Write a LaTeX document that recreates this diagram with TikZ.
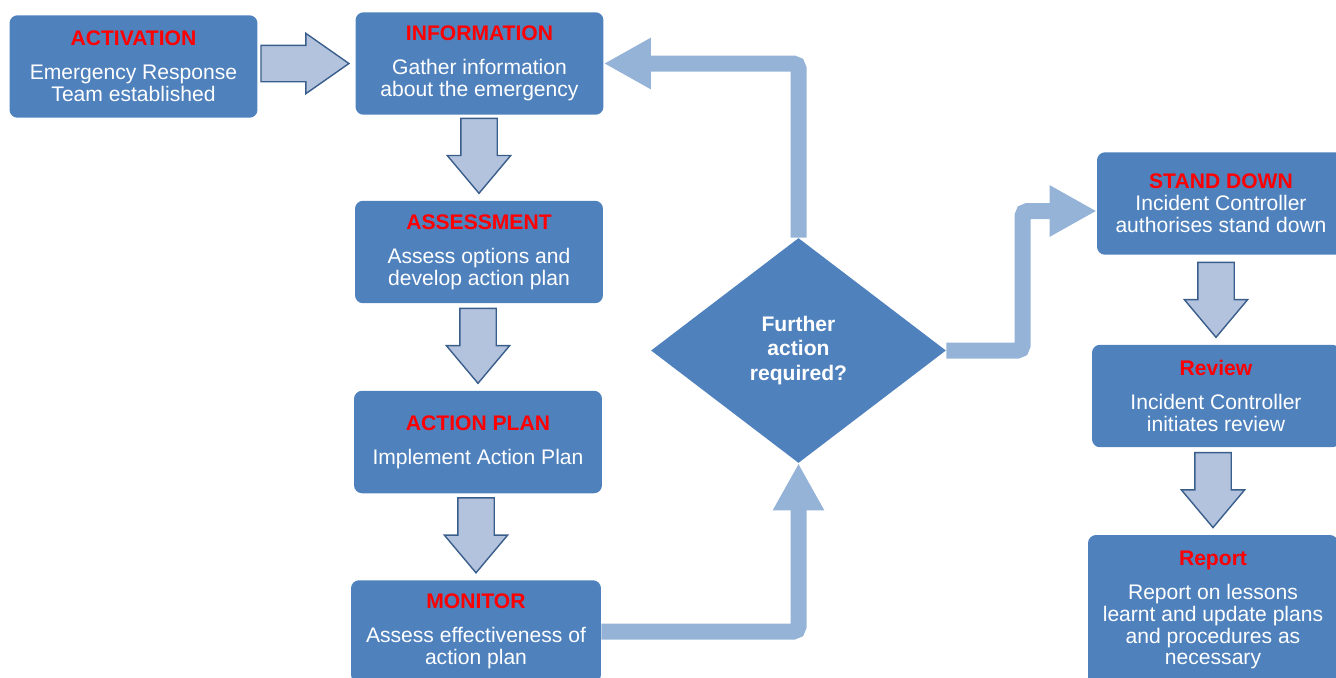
\documentclass[tikz,border=0pt]{standalone}
\usepackage{fontspec}
\setmainfont{Liberation Sans}
\usetikzlibrary{shapes.geometric,shapes.arrows,arrows.meta,calc}

\definecolor{boxblue}{HTML}{4F81BD}
\definecolor{titlered}{HTML}{FF0000}
\definecolor{flowblue}{HTML}{95B3D7}
\definecolor{arrowfill}{HTML}{B3C3DE}
\definecolor{arrowline}{HTML}{3A5E8C}

\newcommand{\steptitle}[1]{\textcolor{titlered}{\bfseries #1}}

\tikzset{
	stepbox/.style={fill=boxblue, rounded corners=0.16cm, minimum width=4.96cm, minimum height=2.05cm,
			text=white, align=center, font=\fontsize{12}{12.5}\selectfont},
	blockarrow/.style={single arrow, fill=arrowfill, draw=arrowline, line width=0.8pt,
			inner xsep=0pt, inner ysep=0.35cm, single arrow head extend=0.27cm,
			single arrow tip angle=80, minimum height=1.5cm, anchor=tip},
	flow/.style={draw=flowblue, line width=0.32cm, rounded corners=0.1cm,
			-{Triangle[length=0.94cm, width=0.96cm]}},
}

\begin{document}
\begin{tikzpicture}[x=0.02cm, y=-0.02cm]
			\useasboundingbox (0,0) rectangle (1336,677);
			\clip (0,0) rectangle (1336,677);

			% left column
			\node[stepbox] (act) at (133.5,66.5) {\steptitle{ACTIVATION}\\[6.8pt] Emergency Response\\ Team established};
			\node[stepbox] (info) at (479.5,63.5) {\steptitle{INFORMATION}\\[6.8pt] Gather information\\ about the emergency};
			\node[stepbox] (assess) at (479,252) {\steptitle{ASSESSMENT}\\[6.8pt] Assess options and\\ develop action plan};
			\node[stepbox] (plan) at (478,442) {\steptitle{ACTION PLAN}\\[6.8pt] Implement Action Plan};
			\node[stepbox, minimum width=5cm] (mon) at (476,631.5) {\steptitle{MONITOR}\\[6.8pt] Assess effectiveness of\\ action plan};

			% decision
			\node[diamond, fill=boxblue, inner sep=0pt, minimum width=5.9cm, minimum height=4.5cm,
				text=white, align=center, font=\fontsize{12}{14.2}\selectfont\bfseries] (dia) at (798.5,350.5) {Further\\ action\\ required?};

			% right column
			\node[stepbox] (stand) at (1221,203.5) {\steptitle{STAND DOWN}\\ Incident Controller\\ authorises stand down};
			\node[stepbox] (review) at (1216,396) {\steptitle{Review}\\[6.8pt] Incident Controller\\ initiates review};
			\node[stepbox, minimum width=5cm, minimum height=3cm] (report) at (1213,610) {\steptitle{Report}\\[6.8pt] Report on lessons\\ learnt and update plans\\ and procedures as\\ necessary};

			% block arrows
			\node[blockarrow, single arrow head extend=0.24cm, single arrow tip angle=70,
				minimum height=1.76cm] (act-info) at ([xshift=-0.1cm]info.west) {};
			\foreach \a/\b in {info/assess, assess/plan, plan/mon, stand/review, review/report} {
					\node[blockarrow, rotate=-90] (\a-\b) at ([yshift=0.12cm]\b.north) {};
				}

			% loop connectors
			\draw[flow] (mon.east) -| (dia.south);
			\draw[flow] (dia.north) |- (info.east);
			\coordinate (bend) at (1022.5,350.5);
			\draw[flow] (dia.east) -- (bend) |- ([yshift=-0.15cm]stand.west);
		\end{tikzpicture}
\end{document}
